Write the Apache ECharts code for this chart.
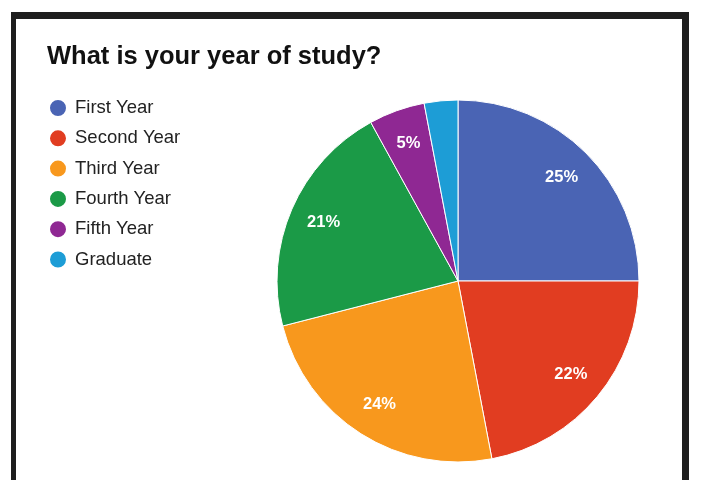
<!DOCTYPE html>
<html>
<head>
<meta charset="utf-8">
<script src="https://cdn.jsdelivr.net/npm/echarts@6/dist/echarts.min.js"></script>
<style>
  html, body { margin: 0; padding: 0; background: #fff; }
  #main { width: 719px; height: 480px; }
</style>
</head>
<body>
<div id="main"></div>
<script>
// survey answers
var categories = ['First Year', 'Second Year', 'Third Year', 'Fourth Year', 'Fifth Year', 'Graduate'];
var shares = [25, 22, 24, 21, 5, 3];
var colors = ['#4a64b4', '#e13d21', '#f8981d', '#1b9a47', '#8f2893', '#1d9dd6'];

var chart = echarts.init(document.getElementById('main'));

var pieData = categories.map(function (c, i) {
    return { name: c, value: shares[i], itemStyle: { color: colors[i] } };
});
// second ring only carries the labels, so they sit further out
var labelData = categories.map(function (c, i) {
    return {
        name: c, value: shares[i],
        label: { show: shares[i] >= 5 }
    };
});

var option = {
    backgroundColor: '#fff',
    animation: false,
    title: {
        text: 'What is your year of study?',
        left: 47,
        top: 44,
        padding: 0,
        textStyle: {
            fontFamily: 'Liberation Sans, Arial, sans-serif',
            fontSize: 25.5,
            fontWeight: 'bold',
            color: '#111'
        }
    },
    legend: {
        orient: 'vertical',
        left: 48,
        top: 98,
        padding: 0,
        icon: 'circle',
        itemWidth: 18,
        itemHeight: 18,
        itemGap: 10.3,
        data: categories,
        textStyle: {
            fontFamily: 'Liberation Sans, Arial, sans-serif',
            fontSize: 18.5,
            lineHeight: 18,
            color: '#222',
            padding: [0, 0, 0, 3]
        }
    },
    graphic: [
        { type: 'rect', shape: { x: 11, y: 12, width: 5, height: 468 }, style: { fill: '#1e1e1e' } },
        { type: 'rect', shape: { x: 11, y: 12, width: 678, height: 7 }, style: { fill: '#1e1e1e' } },
        { type: 'rect', shape: { x: 682, y: 12, width: 7, height: 468 }, style: { fill: '#1e1e1e' } }
    ],
    series: [
        {
            type: 'pie',
            center: [458, 281],
            radius: 181,
            startAngle: 90,
            clockwise: true,
            label: { show: false },
            labelLine: { show: false },
            emphasis: { disabled: true },
            itemStyle: { borderColor: '#fff', borderWidth: 1 },
            data: pieData
        },
        {
            type: 'pie',
            center: [458, 281],
            radius: [106, 181],
            startAngle: 90,
            clockwise: true,
            silent: true,
            legendHoverLink: false,
            itemStyle: { color: 'rgba(0,0,0,0)' },
            label: {
                show: true,
                position: 'inside',
                formatter: '{c}%',
                color: '#fff',
                fontFamily: 'Liberation Sans, Arial, sans-serif',
                fontSize: 16.5,
                fontWeight: 'bold'
            },
            labelLine: { show: false },
            emphasis: { disabled: true },
            data: labelData
        }
    ]
};
chart.setOption(option);
</script>
</body>
</html>
